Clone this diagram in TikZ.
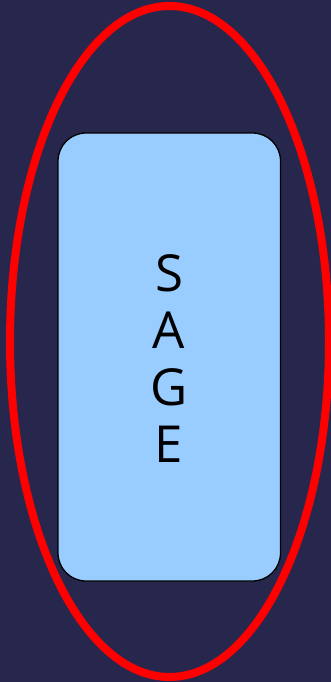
\documentclass[tikz,border=0pt]{standalone}
\usepackage{fontspec}
\setmainfont{Open Sans}
\definecolor{bgnavy}{RGB}{39,39,77}
\definecolor{sageblue}{RGB}{153,204,255}
\tikzset{
  outerring/.style={draw=red, line width=8pt},
  sagebox/.style={draw=black, fill=sageblue, line width=1.3pt, rounded corners=28pt},
  sagetext/.style={align=center, font=\fontsize{51}{57}\selectfont, text=black, inner sep=0pt}
}
\begin{document}
\begin{tikzpicture}[x=1pt,y=-1pt]
  \fill[bgnavy] (0,0) rectangle (331,682);
  \useasboundingbox (0,0) rectangle (331,682);
  \draw[outerring] (169.5,341.5) ellipse [x radius=159.5, y radius=335.5];
  \draw[sagebox] (58,133) rectangle (280.5,581);
  \node[sagetext] (sage) at (169,359) {S\\A\\G\\E};
\end{tikzpicture}
\end{document}
